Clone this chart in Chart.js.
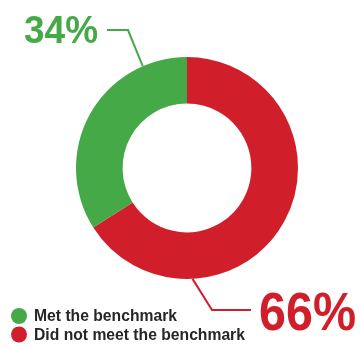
<!DOCTYPE html>
<html>
<head>
<meta charset="utf-8">
<script src="https://cdn.jsdelivr.net/npm/chart.js@4"></script>
<style>
  html, body { margin: 0; padding: 0; background: #fff; }
  #wrap { width: 360px; height: 347px; position: relative; }
</style>
</head>
<body>
<div id="wrap"><canvas id="myChart"></canvas></div>
<script>
// data
var categories = ['Did not meet the benchmark', 'Met the benchmark'];
var values = [66, 34];
var colors = ['#d01f2a', '#46a948'];
var legendOrder = [1, 0];

// labels with leader lines + legend drawn on canvas
var calloutPlugin = {
  id: 'callouts',
  afterDraw: function(c) {
    var ctx = c.ctx;
    var meta = c.getDatasetMeta(0);
    ctx.save();

    // 34% label (green)
    var g = meta.data[1];
    var gAng = -Math.PI / 2 - 0.41;
    var gx = g.x + Math.cos(gAng) * g.outerRadius;
    var gy = g.y + Math.sin(gAng) * g.outerRadius;
    ctx.strokeStyle = colors[1];
    ctx.lineWidth = 2;
    ctx.beginPath();
    ctx.moveTo(gx, gy);
    ctx.lineTo(128, 30);
    ctx.lineTo(107, 30);
    ctx.stroke();
    ctx.fillStyle = colors[1];
    ctx.font = 'bold 39px "Liberation Sans", Arial, sans-serif';
    ctx.textBaseline = 'alphabetic';
    ctx.fillText(values[1] + '%', 24, 43, 74);

    // 66% label (red)
    var r = meta.data[0];
    var rAng = Math.PI / 2 - 0.05;
    var rx = r.x + Math.cos(rAng) * r.outerRadius;
    var ry = r.y + Math.sin(rAng) * r.outerRadius;
    ctx.strokeStyle = colors[0];
    ctx.beginPath();
    ctx.moveTo(rx, ry);
    ctx.lineTo(212, 310);
    ctx.lineTo(251, 310);
    ctx.stroke();
    ctx.fillStyle = colors[0];
    ctx.font = 'bold 53px "Liberation Sans", Arial, sans-serif';
    ctx.fillText(values[0] + '%', 259, 330, 97);

    // legend
    ctx.font = 'bold 15.7px "Liberation Sans", Arial, sans-serif';
    ctx.textBaseline = 'middle';
    legendOrder.forEach(function(idx, i) {
      var y = 316 + i * 18.5;
      ctx.fillStyle = colors[idx];
      ctx.beginPath();
      ctx.arc(19, y, 8, 0, Math.PI * 2);
      ctx.fill();
      ctx.fillStyle = '#262626';
      ctx.fillText(categories[idx], 34, y + 1);
    });
    ctx.restore();
  }
};

window.onload = function() {
  var ctx = document.getElementById('myChart').getContext('2d');
  new Chart(ctx, {
    type: 'doughnut',
    data: {
      labels: categories,
      datasets: [{
        data: values,
        backgroundColor: colors,
        borderWidth: 0
      }]
    },
    options: {
      responsive: true,
      maintainAspectRatio: false,
      animation: false,
      cutout: '58%',
      layout: {
        padding: { left: 76, right: 62, top: 57, bottom: 68 }
      },
      plugins: {
        legend: { display: false },
        tooltip: { enabled: false }
      }
    },
    plugins: [calloutPlugin]
  });
};
</script>
</body>
</html>
